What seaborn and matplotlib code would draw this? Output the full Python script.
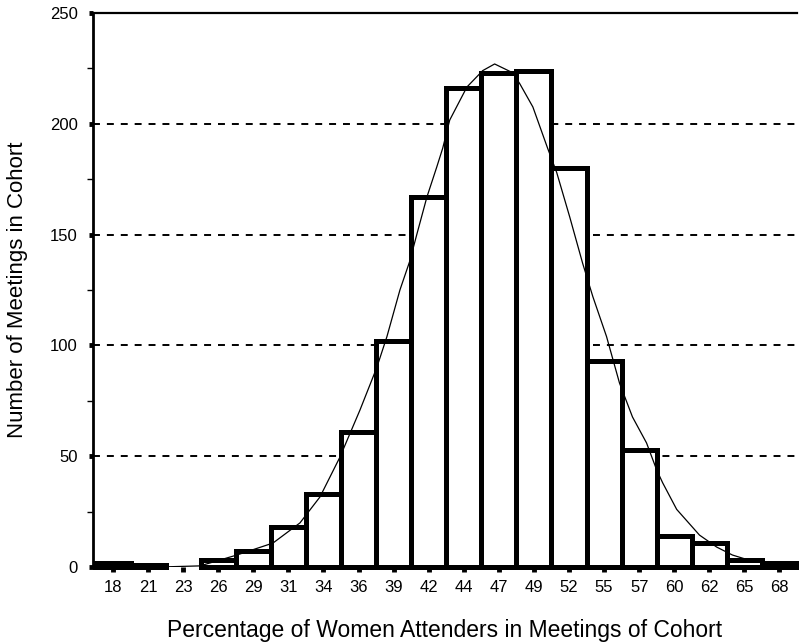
import matplotlib
matplotlib.use("Agg")
import matplotlib.pyplot as plt
import seaborn as sns
import numpy as np
import pandas as pd
from matplotlib.ticker import MultipleLocator

# ---- data ----
categories = ["18", "21", "23", "26", "29", "31", "34", "36", "39", "42",
              "44", "47", "49", "52", "55", "57", "60", "62", "65", "68"]
counts = [2, 1, 0, 3, 7, 18, 33, 61, 102, 167,
          216, 223, 224, 180, 93, 53, 14, 11, 3, 2]

# fitted curve, positions in category-slot units
curve_pos = [-0.57, 1.34, 2.48, 3.53, 4.56, 5.33, 5.90, 6.47, 7.04, 7.52,
             7.81, 8.18, 8.46, 8.66, 8.95, 9.23, 9.40, 9.60, 10.09, 10.54,
             10.88, 11.40, 11.60, 11.97, 12.39, 12.65, 13.02, 13.39, 13.68, 14.07,
             14.44, 14.81, 15.21, 15.50, 15.67, 16.07, 16.72, 17.21, 17.66, 18.15,
             19.00, 19.49]
curve_val = [0, 0, 0.5, 5.4, 10.8, 19.9, 31.6, 49.6, 70.8, 90,
             104, 125, 138, 150, 167, 180.5, 189, 201.7, 216.6, 224,
             227, 223, 218, 207.6, 189, 178, 158, 137, 122, 104,
             83, 67.7, 56, 43.8, 38, 26, 14.4, 9, 5.4, 3,
             1, 0.5]

y_ticks = [0, 50, 100, 150, 200, 250]

sns.set_theme(style="white")
plt.rcParams['font.family'] = ['Liberation Sans', 'DejaVu Sans']
plt.rcParams['text.color'] = 'black'
plt.rcParams['axes.labelcolor'] = 'black'
plt.rcParams['xtick.color'] = 'black'
plt.rcParams['ytick.color'] = 'black'
plt.rcParams['lines.scale_dashes'] = False

fig = plt.figure(figsize=(7.99, 6.44), dpi=100)
ax = fig.add_axes([93 / 799, 77 / 644, 704 / 799, 554 / 644])

positions = np.arange(len(categories))
df = pd.DataFrame({"pos": positions, "n": counts})
sns.barplot(data=df, x="pos", y="n", native_scale=True, orient="x",
            color="white", edgecolor="black", linewidth=3.6, width=1.0,
            saturation=1, ax=ax, zorder=2)

for p in ax.patches:
    p.set_clip_on(False)
    if p.get_height() == 0:
        p.set_linewidth(0)

sns.lineplot(x=curve_pos, y=curve_val, color="black", linewidth=0.9,
             ax=ax, zorder=3, sort=False)

ax.set_xlim(-0.57, 19.5)
ax.set_ylim(0, 250)
ax.set_xticks(positions)
ax.set_xticklabels(categories)
ax.set_yticks(y_ticks)
ax.yaxis.set_minor_locator(MultipleLocator(25))

ax.set_axisbelow(True)
ax.yaxis.grid(True, which="major", linestyle=(0, (5, 5)), color="black", linewidth=1.4)
gl = ax.yaxis.get_gridlines()
gl[0].set_visible(False)
gl[-1].set_visible(False)

for s in ["right", "bottom"]:
    ax.spines[s].set_visible(False)
ax.spines["left"].set_color("black")
ax.spines["left"].set_linewidth(2)
ax.spines["top"].set_color("black")
ax.spines["top"].set_linewidth(1.6)

ax.tick_params(axis="x", bottom=True, length=3.5, width=3.5, pad=6, labelsize=12)
ax.tick_params(axis="y", which="major", left=True, length=3, width=3.5, pad=8, labelsize=12)
ax.tick_params(axis="y", which="minor", left=True, length=4, width=1)

ax.set_xlabel("Percentage of Women Attenders in Meetings of Cohort", fontsize=16.5, labelpad=17)
ax.set_ylabel("Number of Meetings in Cohort", fontsize=16, labelpad=16)

fig.savefig("out.png", dpi=100)
